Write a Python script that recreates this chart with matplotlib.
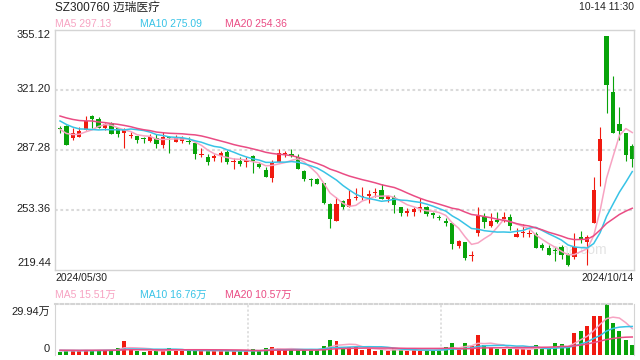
import numpy as np
import matplotlib
matplotlib.use("Agg")
import matplotlib.pyplot as plt

plt.rcParams['font.family'] = ['Liberation Sans', 'Noto Sans CJK SC']

# Header texts
title = "SZ300760 迈瑞医疗"
stamp = "10-14 11:30"
start_date = "2024/05/30"
end_date = "2024/10/14"

# Daily OHLC, 2024/05/30 .. 2024/10/14
open_ = [299.3, 300.8, 294.1, 294.6, 298.6, 306.5, 304.8, 299.7, 302.5, 299.7,
         296.9, 295.0, 295.2, 293.7, 292.4, 294.1, 290.1, 294.2, 291.8, 292.4,
         292.0, 291.2, 284.2, 283.3, 282.8, 283.9, 286.2, 280.3, 281.1, 280.5,
         283.9, 279.4, 276.0, 271.5, 280.5, 284.8, 285.0, 283.3, 275.4, 270.5,
         270.9, 268.6, 256.8, 247.1, 258.5, 255.1, 259.9, 260.5, 261.3, 262.8,
         264.7, 259.6, 260.7, 255.1, 251.7, 252.2, 253.9, 255.1, 251.7, 249.0,
         247.1, 246.0, 233.0, 235.3, 227.2, 240.4, 249.4, 244.3, 247.7, 248.3,
         249.4, 238.1, 240.2, 239.6, 239.8, 233.6, 231.9, 230.4, 232.5, 227.9,
         226.8, 238.1, 235.3, 246.0, 281.1, 351.7, 320.1, 302.0, 296.9, 289.5]
high = [300.9, 301.4, 299.7, 300.3, 306.5, 306.8, 305.9, 302.6, 303.0, 299.9,
        299.7, 297.5, 295.4, 294.6, 296.3, 296.3, 297.5, 295.2, 295.8, 295.2,
        294.6, 291.8, 288.4, 285.0, 285.0, 286.7, 287.3, 282.8, 283.3, 283.3,
        284.5, 280.5, 277.7, 281.6, 287.8, 286.7, 287.8, 285.0, 276.0, 271.5,
        271.2, 268.8, 257.3, 260.7, 259.0, 264.7, 265.8, 266.4, 264.7, 265.8,
        268.1, 261.8, 261.8, 255.3, 254.5, 255.1, 260.1, 255.6, 252.2, 250.5,
        248.8, 246.2, 236.4, 235.5, 230.2, 255.1, 251.7, 251.7, 252.2, 252.2,
        251.1, 243.2, 245.4, 242.0, 240.9, 234.7, 233.6, 232.5, 233.6, 229.1,
        240.4, 241.5, 239.2, 272.0, 300.3, 352.0, 329.1, 311.6, 297.1, 290.7]
low = [296.9, 290.0, 292.9, 294.4, 298.4, 299.7, 299.5, 298.6, 296.1, 294.6,
       288.4, 294.1, 291.2, 291.2, 291.8, 288.4, 288.4, 285.6, 291.6, 291.2,
       290.7, 282.2, 283.3, 278.8, 281.1, 280.5, 279.4, 276.5, 278.2, 277.7,
       274.3, 277.1, 271.8, 269.2, 280.3, 283.3, 283.3, 276.3, 269.8, 266.9,
       267.8, 256.8, 243.2, 247.0, 253.9, 254.9, 259.0, 259.0, 257.3, 260.7,
       259.4, 257.9, 251.7, 250.0, 250.0, 250.0, 252.2, 250.0, 248.8, 247.7,
       244.3, 231.3, 231.9, 225.1, 224.5, 238.7, 243.2, 243.8, 246.0, 246.6,
       242.1, 237.9, 238.1, 238.1, 231.7, 230.8, 227.7, 224.5, 225.7, 221.7,
       225.7, 234.7, 222.3, 245.8, 266.9, 308.2, 296.7, 292.9, 281.1, 277.7]
close = [299.0, 290.1, 296.9, 298.0, 303.7, 304.8, 299.7, 302.0, 296.3, 296.3,
         298.6, 295.4, 292.9, 293.4, 294.6, 290.7, 294.6, 293.8, 294.1, 294.1,
         291.7, 285.0, 284.6, 280.5, 283.9, 285.6, 280.5, 280.6, 279.4, 281.6,
         281.1, 277.7, 272.0, 280.5, 285.6, 285.1, 283.9, 276.5, 270.9, 270.2,
         268.1, 257.3, 248.3, 256.8, 255.1, 259.6, 260.1, 260.7, 262.4, 263.0,
         259.6, 261.3, 256.2, 251.7, 252.8, 253.9, 255.1, 251.1, 250.5, 248.8,
         246.0, 234.1, 235.8, 226.2, 227.5, 250.0, 246.6, 247.1, 246.6, 249.4,
         244.2, 239.8, 240.4, 239.8, 231.9, 231.9, 227.9, 230.2, 227.9, 222.3,
         232.5, 236.4, 238.1, 264.7, 293.5, 324.1, 296.9, 298.0, 284.5, 282.2]
# volume in 万 shares
volume = [2.0, 2.6, 2.6, 2.6, 3.0, 2.6, 3.0, 3.0, 3.0, 4.0,
          8.0, 3.4, 2.4, 2.0, 2.6, 2.6, 2.6, 4.0, 2.6, 2.6,
          2.6, 2.6, 2.6, 2.4, 2.4, 2.4, 2.4, 2.4, 2.4, 2.4,
          3.4, 2.4, 4.0, 4.6, 4.0, 3.0, 3.0, 3.0, 3.0, 3.0,
          3.0, 5.4, 9.0, 8.0, 4.6, 4.6, 4.6, 3.0, 3.6, 2.4,
          3.0, 2.4, 4.0, 3.0, 2.4, 3.0, 2.4, 3.0, 3.0, 3.0,
          4.6, 7.0, 3.0, 7.0, 5.4, 12.0, 6.0, 4.4, 3.6, 3.6,
          3.4, 3.8, 3.8, 2.7, 5.8, 3.4, 3.4, 6.8, 6.2, 4.5,
          13.2, 14.2, 16.9, 22.8, 22.96, 29.94, 18.5, 14.3, 9.0, 5.8]

# sessions before the window, only used to seed the moving averages
prev_close = [312, 314, 310, 308, 306, 311, 309, 307, 305, 311,
              310, 312, 308, 305, 307, 302, 300, 297, 297]
prev_volume = [3.1, 2.8, 3.4, 2.6, 3.0, 2.9, 3.3, 2.7, 2.5, 3.2,
               2.8, 3.0, 2.6, 2.9, 3.1, 2.7, 2.4, 2.8, 2.6]

price_ticks = [355.12, 321.20, 287.28, 253.36, 219.44]
ma_periods = [5, 10, 20]
ma_colors = ['#f7a3c2', '#38c3e6', '#ea4c84']
ma_price_last = [297.13, 275.09, 254.36]
ma_vol_last = [15.51, 16.76, 10.57]

RED = '#f01a10'
GREEN = '#08a30a'
GRID = '#dadada'
TXT = '#222222'

W, H = 640, 360
fig = plt.figure(figsize=(W / 100, H / 100), dpi=100)


def box(l, t, r, b):
    return [l / W, 1 - b / H, (r - l) / W, (b - t) / H]


ax = fig.add_axes(box(55, 30, 634, 270))
axv = fig.add_axes(box(55, 304, 634, 355))

x = np.arange(len(close))
o, hi, lo, c = map(np.array, (open_, high, low, close))
vol = np.array(volume)
colors = np.where(c >= o, RED, GREEN)
xlim = (-0.78, 89.27)

# candles
ax.vlines(x, lo, hi, colors=colors, linewidth=0.8, zorder=2)
ax.bar(x, np.maximum(np.abs(c - o), 0.6), bottom=np.minimum(o, c), width=0.66,
       color=colors, linewidth=0, zorder=2)

full_close = np.concatenate([prev_close, c])
full_vol = np.concatenate([prev_volume, vol])
for p, col in zip(ma_periods, ma_colors):
    k = np.ones(p) / p
    ax.plot(x, np.convolve(full_close, k, mode='valid')[-len(c):], color=col, lw=1.1, zorder=3)
    axv.plot(x, np.convolve(full_vol, k, mode='valid')[-len(c):], color=col, lw=1.1, zorder=3)

ax.set_xlim(*xlim)
ax.set_ylim(price_ticks[-1], price_ticks[0])
for v in price_ticks[1:-1]:
    ax.axhline(v, color=GRID, lw=1.5, ls=(0, (1.3, 1.3)), zorder=0)
ax.set_xticks([])
ax.set_yticks([])
for s in ax.spines.values():
    s.set_color('#d4d4d4')
    s.set_linewidth(1)

offsets = [-5, 1, 2, 1, 7]
for v, dy in zip(price_ticks, offsets):
    ax.annotate(f"{v:.2f}", xy=(0, v), xycoords=ax.get_yaxis_transform(),
                xytext=(-4, dy), textcoords='offset pixels', ha='right', va='center',
                fontsize=8, color=TXT, annotation_clip=False)

ax.text(0.905, 0.085, "sina.com", transform=ax.transAxes, fontsize=10,
        color='#e4e4e4', ha='center', va='center', zorder=0)

# volume panel
axv.bar(x, vol, width=0.62, color=colors, linewidth=0, zorder=2)
axv.set_xlim(*xlim)
axv.set_ylim(0, vol.max())
axv.set_xticks([])
axv.set_yticks([])
for k in (1, 2):
    axv.axvline(xlim[0] + (xlim[1] - xlim[0]) * k / 3, color=GRID, lw=1.2,
                ls=(0, (1.3, 1.3)), zorder=0)
axv.spines['bottom'].set_visible(False)
axv.spines['top'].set_linestyle((0, (1.3, 1.3)))
for s in axv.spines.values():
    s.set_color('#d4d4d4')
axv.spines['top'].set_linewidth(1.5)
axv.annotate(f"{vol.max():.2f}万", xy=(0, vol.max()), xycoords=axv.get_yaxis_transform(),
             xytext=(-5, -8), textcoords='offset pixels', ha='right', va='center',
             fontsize=8, color=TXT, annotation_clip=False)
axv.annotate("0", xy=(0, 0), xycoords=axv.get_yaxis_transform(),
             xytext=(-5, 6), textcoords='offset pixels', ha='right', va='center',
             fontsize=8, color=TXT, annotation_clip=False)


def ftext(px, py, s, **kw):
    fig.text(px / W, 1 - py / H, s, va='center', **kw)


ftext(55, 7.5, title, fontsize=8.5, color=TXT)
ftext(634, 7.5, stamp, fontsize=7.5, color=TXT, ha='right')
ftext(55, 278, start_date, fontsize=7.5, color=TXT)
ftext(634, 278, end_date, fontsize=7.5, color=TXT, ha='right')

legend_x = [55, 140, 225]
for p, col, v, lx in zip(ma_periods, ma_colors, ma_price_last, legend_x):
    ftext(lx, 24, f"MA{p} {v:.2f}", fontsize=7.5, color=col)
for p, col, v, lx in zip(ma_periods, ma_colors, ma_vol_last, legend_x):
    ftext(lx, 294.5, f"MA{p} {v:.2f}万", fontsize=7.5, color=col)

fig.savefig("out.png", dpi=100)
